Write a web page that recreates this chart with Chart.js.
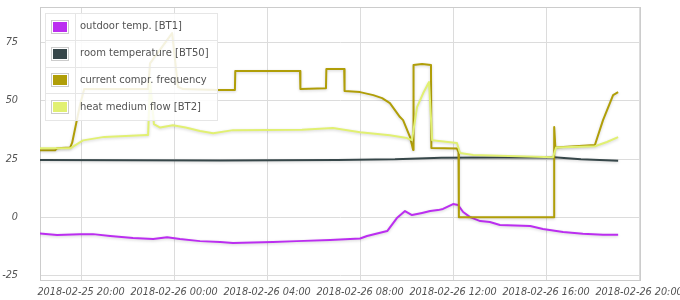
<!DOCTYPE html>
<html>
<head>
<meta charset="utf-8">
<script src="https://cdn.jsdelivr.net/npm/chart.js@4/dist/chart.umd.min.js"></script>
<style>
  html, body { margin: 0; padding: 0; background: #fff; }
  #wrap { width: 680px; height: 300px; }
</style>
</head>
<body>
<div id="wrap"><canvas id="heatChart" width="680" height="300"></canvas></div>
<script>
// series: [time, value]
const outdoorTemp = [
    ['2018-02-25 18:14', -6.9], ['2018-02-25 18:58', -7.6], ['2018-02-25 19:57', -7.2],
    ['2018-02-25 20:31', -7.2], ['2018-02-25 21:15', -8.0], ['2018-02-25 22:14', -8.9],
    ['2018-02-25 23:06', -9.3], ['2018-02-25 23:42', -8.5], ['2018-02-26 00:15', -9.3],
    ['2018-02-26 01:07', -10.2], ['2018-02-26 01:59', -10.6], ['2018-02-26 02:32', -11.0],
    ['2018-02-26 04:15', -10.6], ['2018-02-26 05:17', -10.2], ['2018-02-26 06:43', -9.7],
    ['2018-02-26 08:00', -9.1], ['2018-02-26 08:18', -8.0], ['2018-02-26 08:44', -6.9],
    ['2018-02-26 09:10', -5.9], ['2018-02-26 09:35', -0.3], ['2018-02-26 09:56', 2.7],
    ['2018-02-26 10:14', 1.0], ['2018-02-26 10:40', 1.9], ['2018-02-26 11:01', 2.7],
    ['2018-02-26 11:21', 3.1], ['2018-02-26 11:34', 3.6], ['2018-02-26 12:00', 5.7],
    ['2018-02-26 12:13', 5.3], ['2018-02-26 12:26', 2.3], ['2018-02-26 12:44', 0.1],
    ['2018-02-26 13:10', -1.6], ['2018-02-26 13:35', -2.0], ['2018-02-26 14:01', -3.3],
    ['2018-02-26 15:19', -3.7], ['2018-02-26 15:52', -5.0], ['2018-02-26 16:44', -6.3],
    ['2018-02-26 17:35', -7.0], ['2018-02-26 18:27', -7.5], ['2018-02-26 19:06', -7.5]
];
const roomTemp = [
    ['2018-02-25 18:14', 24.6], ['2018-02-26 02:00', 24.4], ['2018-02-26 07:00', 24.6],
    ['2018-02-26 09:30', 24.9], ['2018-02-26 11:30', 25.6], ['2018-02-26 16:20', 25.8],
    ['2018-02-26 17:30', 24.9], ['2018-02-26 19:06', 24.3]
];
const comprFreq = [
    ['2018-02-25 18:14', 28.8], ['2018-02-25 18:53', 28.8], ['2018-02-25 18:58', 29.6],
    ['2018-02-25 19:32', 30.0], ['2018-02-25 19:37', 32], ['2018-02-25 19:57', 48],
    ['2018-02-25 20:08', 55], ['2018-02-25 22:53', 55], ['2018-02-25 22:58', 66],
    ['2018-02-25 23:55', 79], ['2018-02-26 00:10', 56], ['2018-02-26 00:23', 55],
    ['2018-02-26 01:51', 54.6], ['2018-02-26 02:37', 54.6], ['2018-02-26 02:38', 62.8],
    ['2018-02-26 05:25', 62.8], ['2018-02-26 05:26', 55], ['2018-02-26 06:32', 55.4],
    ['2018-02-26 06:33', 63.6], ['2018-02-26 07:19', 63.6], ['2018-02-26 07:20', 54.2],
    ['2018-02-26 08:00', 53.7], ['2018-02-26 08:34', 52.4], ['2018-02-26 08:57', 51.1],
    ['2018-02-26 09:17', 49], ['2018-02-26 09:43', 43], ['2018-02-26 09:51', 41.7],
    ['2018-02-26 10:09', 34.4], ['2018-02-26 10:17', 28.9], ['2018-02-26 10:18', 65.3],
    ['2018-02-26 10:40', 65.8], ['2018-02-26 11:03', 65.3], ['2018-02-26 11:04', 29.7],
    ['2018-02-26 12:10', 29.5], ['2018-02-26 12:14', 28], ['2018-02-26 12:15', 0],
    ['2018-02-26 16:21', 0], ['2018-02-26 16:21', 38.7], ['2018-02-26 16:24', 30],
    ['2018-02-26 18:06', 31], ['2018-02-26 18:27', 41.7], ['2018-02-26 18:53', 52.4],
    ['2018-02-26 19:06', 53.7]
];
const heatMedium = [
    ['2018-02-25 18:14', 29.6], ['2018-02-25 19:32', 29.6], ['2018-02-25 20:05', 33],
    ['2018-02-25 21:00', 34.5], ['2018-02-25 22:50', 35.3], ['2018-02-25 22:53', 35.3],
    ['2018-02-25 22:58', 58], ['2018-02-25 23:08', 40], ['2018-02-25 23:24', 38.5],
    ['2018-02-25 23:57', 39.5], ['2018-02-26 00:30', 38.5], ['2018-02-26 01:07', 37],
    ['2018-02-26 01:41', 36.1], ['2018-02-26 02:32', 37.4], ['2018-02-26 04:00', 37.5],
    ['2018-02-26 05:30', 37.6], ['2018-02-26 06:50', 38.3], ['2018-02-26 08:00', 36.5],
    ['2018-02-26 09:17', 35.2], ['2018-02-26 10:01', 34], ['2018-02-26 10:14', 33.1],
    ['2018-02-26 10:27', 47.3], ['2018-02-26 10:43', 53.3], ['2018-02-26 10:58', 58],
    ['2018-02-26 11:06', 33.1], ['2018-02-26 12:10', 31.9], ['2018-02-26 12:18', 27.6],
    ['2018-02-26 12:52', 26.7], ['2018-02-26 16:18', 25.8], ['2018-02-26 16:26', 30],
    ['2018-02-26 18:06', 30.5], ['2018-02-26 18:37', 32.3], ['2018-02-26 19:06', 34.4]
];

const seriesNames = ['outdoor temp. [BT1]', 'room temperature [BT50]', 'current compr. frequency', 'heat medium flow [BT2]'];
const seriesColors = ['#bb2ef0', '#37474a', '#b09e08', '#e1f072'];
const yTicks = [-25, 0, 25, 50, 75];
const xTicks = ['2018-02-25 20:00', '2018-02-26 00:00', '2018-02-26 04:00', '2018-02-26 08:00',
    '2018-02-26 12:00', '2018-02-26 16:00', '2018-02-26 20:00'];

// hours since 2018-02-25 00:00
function toHours(s) {
    const [d, t] = s.split(' ');
    const day = parseInt(d.slice(8));
    const [hh, mm] = t.split(':').map(Number);
    return (day - 25) * 24 + hh + mm / 60;
}
function fmtHours(h) {
    const day = 25 + Math.floor(h / 24);
    const hh = Math.round(h % 24);
    return '2018-02-' + day + ' ' + String(hh).padStart(2, '0') + ':00';
}

const allSeries = [outdoorTemp, roomTemp, comprFreq, heatMedium];

// flot-like frame + shadowed lines + boxed legend inside the plot
const flotLook = {
    id: 'flotLook',
    beforeDatasetsDraw(chart) {
        const { ctx, chartArea: a } = chart;
        ctx.save();
        ctx.strokeStyle = '#cccccc';
        ctx.lineWidth = 1;
        ctx.strokeRect(a.left + 0.5, a.top + 0.5, a.right - a.left - 1, a.bottom - a.top - 1);
        ctx.restore();
        ctx.save();
        ctx.shadowColor = 'rgba(0,0,0,0.18)';
        ctx.shadowBlur = 3;
        ctx.shadowOffsetX = 0;
        ctx.shadowOffsetY = 1;
    },
    afterDatasetsDraw(chart) {
        const { ctx } = chart;
        ctx.restore();
        ctx.save();
        const x0 = 45, y0 = 13, w = 172, rowH = 26.75, h = rowH * 4;
        ctx.fillStyle = 'rgba(255,255,255,0.87)';
        ctx.fillRect(x0, y0, w, h);
        ctx.strokeStyle = '#e6e6e6';
        ctx.lineWidth = 1;
        ctx.strokeRect(x0 + 0.5, y0 + 0.5, w, h);
        ctx.beginPath();
        for (let i = 1; i < 4; i++) {
            const yy = Math.round(y0 + rowH * i) + 0.5;
            ctx.moveTo(x0, yy);
            ctx.lineTo(x0 + w, yy);
        }
        ctx.moveTo(75.5, y0);
        ctx.lineTo(75.5, y0 + h);
        ctx.stroke();
        ctx.font = '10px "DejaVu Sans"';
        ctx.textBaseline = 'middle';
        seriesNames.forEach((name, i) => {
            const cy = y0 + rowH * i + rowH / 2 + 0.5;
            ctx.fillStyle = '#ffffff';
            ctx.fillRect(51, Math.round(cy - 7), 18, 14);
            ctx.strokeStyle = '#cccccc';
            ctx.strokeRect(51.5, Math.round(cy - 7) + 0.5, 17, 13);
            ctx.fillStyle = seriesColors[i];
            ctx.fillRect(53, Math.round(cy - 5), 14, 10);
            ctx.fillStyle = '#545454';
            ctx.fillText(name, 80, cy);
        });
        ctx.restore();
    }
};

const ctx = document.getElementById('heatChart');
new Chart(ctx, {
    type: 'line',
    data: {
        datasets: allSeries.map((s, i) => ({
            label: seriesNames[i],
            data: s.map(([t, v]) => ({ x: toHours(t), y: v })),
            borderColor: seriesColors[i],
            backgroundColor: seriesColors[i],
            borderWidth: 2,
            pointRadius: 0,
            tension: 0,
            fill: false,
            borderJoinStyle: 'round',
            order: 4 - i
        }))
    },
    options: {
        responsive: false,
        animation: false,
        layout: { padding: { top: 7, right: 39, left: 0, bottom: 0 } },
        plugins: {
            legend: { display: false },
            tooltip: { enabled: false }
        },
        scales: {
            x: {
                type: 'linear',
                min: toHours('2018-02-25 18:14'),
                max: toHours('2018-02-26 20:05'),
                afterBuildTicks: (s) => { s.ticks = xTicks.map(t => ({ value: toHours(t) })); },
                afterFit: (s) => { s.height = 19; s.paddingLeft = 0; s.paddingRight = 0; },
                grid: { color: '#dcdcdc', drawTicks: false },
                border: { display: false },
                ticks: {
                    autoSkip: false,
                    maxRotation: 0,
                    padding: 6,
                    color: '#545454',
                    font: { family: '"DejaVu Sans"', size: 9.7, style: 'italic' },
                    callback: (v) => fmtHours(v)
                }
            },
            y: {
                min: -27.3,
                max: 90.2,
                afterBuildTicks: (s) => { s.ticks = yTicks.map(v => ({ value: v })); },
                afterFit: (s) => { s.width = 40; s.paddingTop = 0; s.paddingBottom = 0; },
                grid: { color: '#dcdcdc', drawTicks: false },
                border: { display: false },
                ticks: {
                    padding: 22,
                    color: '#545454',
                    font: { family: '"DejaVu Sans"', size: 9.7, style: 'italic' }
                }
            }
        }
    },
    plugins: [flotLook]
});
</script>
</body>
</html>
